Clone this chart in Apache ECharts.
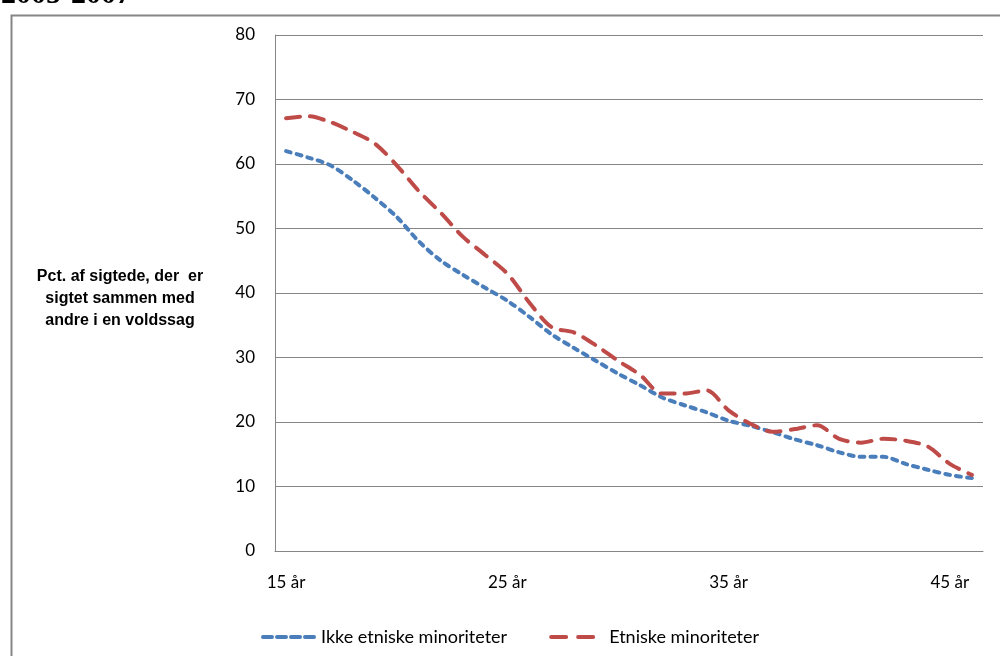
<!DOCTYPE html>
<html>
<head>
<meta charset="utf-8">
<script src="https://cdn.jsdelivr.net/npm/echarts@6/dist/echarts.min.js"></script>
<style>
html,body{margin:0;padding:0;background:#fff;}
#c{width:1000px;height:656px;}
</style>
</head>
<body>
<div id="c"></div>
<script>
const ages = [15,16,17,18,19,20,21,22,23,24,25,26,27,28,29,30,31,32,33,34,35,36,37,38,39,40,41,42,43,44,45,46];
const categories = ages.map(a => a + ' år');
const ikkeEtniske = [62.0,61.0,59.8,57.5,54.8,51.8,48.0,45.0,42.8,40.8,38.8,36.3,33.6,31.5,29.5,27.5,25.7,23.8,22.6,21.5,20.2,19.4,18.4,17.3,16.4,15.3,14.6,14.6,13.5,12.6,11.8,11.3];
const etniske = [67.1,67.4,66.5,65.0,63.2,59.8,55.8,52.4,48.7,45.9,43.0,38.5,34.7,33.9,31.9,29.5,27.3,24.4,24.4,24.9,21.8,19.7,18.5,18.9,19.5,17.4,16.8,17.4,17.1,16.2,13.5,11.8];
const yTicks = [0,10,20,30,40,50,60,70,80];
const seriesNames = ['Ikke etniske minoriteter','Etniske minoriteter'];
const yTitle = 'Pct. af sigtede, der  er\nsigtet sammen med\nandre i en voldssag';
const topTitle = '2005-2007';

const font = 'Lato, "Open Sans", sans-serif';
const chart = echarts.init(document.getElementById('c'), null, {renderer:'canvas'});
chart.setOption({
  animation:false,
  backgroundColor:'#fff',
  graphic:[
    {type:'rect', left:9, top:13, shape:{width:1000, height:660}, style:{fill:'none', stroke:'#868686', lineWidth:2}, z:-1},
    {type:'text', x:1, y:10, style:{text:topTitle, font:'bold 30px "Liberation Serif", "DejaVu Serif", serif', fill:'#000', verticalAlign:'bottom', align:'left'}},
    {type:'text', x:120, y:299, style:{text:yTitle, font:'bold 16px "Liberation Sans", Arial, sans-serif', fill:'#000', align:'center', verticalAlign:'middle', lineHeight:22}}
  ],
  grid:{left:275, right:17, top:35, bottom:105, containLabel:false},
  legend:{
    top:623, left:256, itemGap:42, itemWidth:53, itemHeight:14,
    textStyle:{fontFamily:font, fontSize:18, color:'#000'},
    itemStyle:{opacity:0},
    data:[
      {name:seriesNames[0], lineStyle:{width:4, type:[9,5], cap:'round'}},
      {name:seriesNames[1], lineStyle:{width:4, type:[15,12], cap:'round'}}
    ]
  },
  xAxis:{
    type:'category', data:categories, boundaryGap:true,
    axisLine:{show:true, lineStyle:{color:'#868686', width:1}},
    axisTick:{show:false},
    axisLabel:{interval:9, margin:23, fontFamily:font, fontSize:17, color:'#000'},
    splitLine:{show:false}
  },
  yAxis:{
    type:'value', min:yTicks[0], max:yTicks[yTicks.length-1], interval:10,
    axisLine:{show:true, lineStyle:{color:'#868686', width:1}},
    axisTick:{show:false},
    axisLabel:{margin:20, fontFamily:font, fontSize:17, color:'#000'},
    splitLine:{show:true, lineStyle:{color:'#868686', width:1}}
  },
  series:[
    {name:seriesNames[0], type:'line', data:ikkeEtniske, symbol:'none', smooth:0.3,
     itemStyle:{color:'#4A7EBB'},
     lineStyle:{color:'#4A7EBB', width:4, type:[5,6], cap:'round'}},
    {name:seriesNames[1], type:'line', data:etniske, symbol:'none', smooth:0.3,
     itemStyle:{color:'#BE4B48'},
     lineStyle:{color:'#BE4B48', width:4, type:[14,10], cap:'round'}}
  ]
});
</script>
</body>
</html>
